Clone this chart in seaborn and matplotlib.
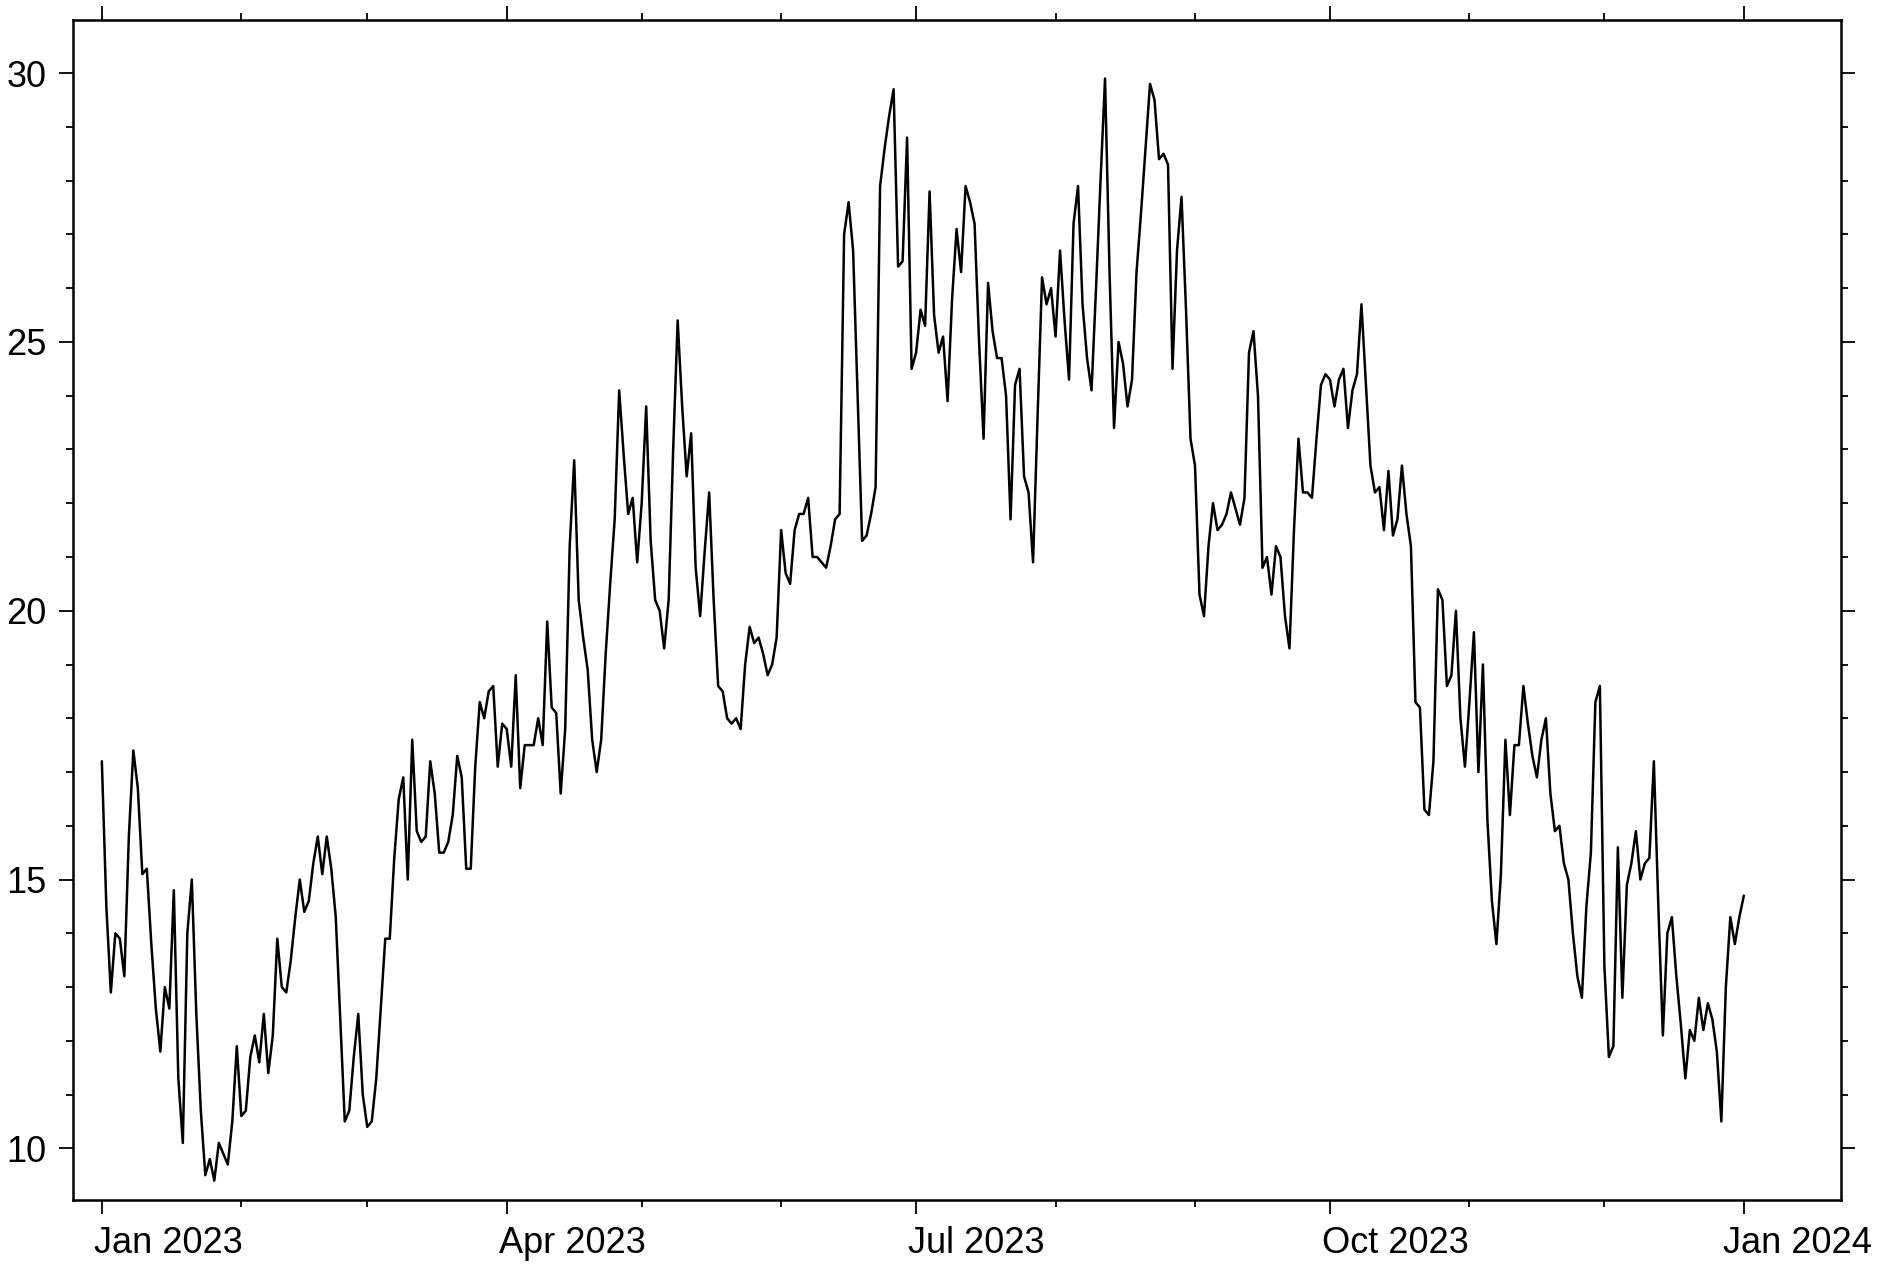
import numpy as np
import pandas as pd
import matplotlib
matplotlib.use('Agg')
import matplotlib.pyplot as plt
import matplotlib.dates as mdates
import matplotlib.transforms as mtransforms
from matplotlib.ticker import MultipleLocator
import seaborn as sns

# daily values, 2023-01-01 .. 2024-01-01
start_date = '2023-01-01'
temps = [
    17.2, 14.5, 12.9, 14.0, 13.9, 13.2, 15.8, 17.4, 16.7, 15.1,
    15.2, 13.8, 12.6, 11.8, 13.0, 12.6, 14.8, 11.3, 10.1, 14.0,
    15.0, 12.5, 10.7, 9.5, 9.8, 9.4, 10.1, 9.9, 9.7, 10.5,
    11.9, 10.6, 10.7, 11.7, 12.1, 11.6, 12.5, 11.4, 12.1, 13.9,
    13.0, 12.9, 13.5, 14.3, 15.0, 14.4, 14.6, 15.3, 15.8, 15.1,
    15.8, 15.2, 14.3, 12.4, 10.5, 10.7, 11.7, 12.5, 11.0, 10.4,
    10.5, 11.3, 12.6, 13.9, 13.9, 15.4, 16.5, 16.9, 15.0, 17.6,
    15.9, 15.7, 15.8, 17.2, 16.6, 15.5, 15.5, 15.7, 16.2, 17.3,
    16.9, 15.2, 15.2, 17.1, 18.3, 18.0, 18.5, 18.6, 17.1, 17.9,
    17.8, 17.1, 18.8, 16.7, 17.5, 17.5, 17.5, 18.0, 17.5, 19.8,
    18.2, 18.1, 16.6, 17.8, 21.2, 22.8, 20.2, 19.5, 18.9, 17.6,
    17.0, 17.6, 19.2, 20.5, 21.7, 24.1, 22.9, 21.8, 22.1, 20.9,
    22.0, 23.8, 21.3, 20.2, 20.0, 19.3, 20.2, 23.0, 25.4, 23.8,
    22.5, 23.3, 20.8, 19.9, 21.1, 22.2, 20.2, 18.6, 18.5, 18.0,
    17.9, 18.0, 17.8, 19.0, 19.7, 19.4, 19.5, 19.2, 18.8, 19.0,
    19.5, 21.5, 20.7, 20.5, 21.5, 21.8, 21.8, 22.1, 21.0, 21.0,
    20.9, 20.8, 21.2, 21.7, 21.8, 27.0, 27.6, 26.7, 24.0, 21.3,
    21.4, 21.8, 22.3, 27.9, 28.6, 29.2, 29.7, 26.4, 26.5, 28.8,
    24.5, 24.8, 25.6, 25.3, 27.8, 25.5, 24.8, 25.1, 23.9, 25.8,
    27.1, 26.3, 27.9, 27.6, 27.2, 25.0, 23.2, 26.1, 25.2, 24.7,
    24.7, 24.0, 21.7, 24.2, 24.5, 22.5, 22.2, 20.9, 23.6, 26.2,
    25.7, 26.0, 25.1, 26.7, 25.4, 24.3, 27.2, 27.9, 25.7, 24.7,
    24.1, 26.0, 28.0, 29.9, 26.3, 23.4, 25.0, 24.6, 23.8, 24.3,
    26.3, 27.4, 28.6, 29.8, 29.5, 28.4, 28.5, 28.3, 24.5, 26.7,
    27.7, 25.6, 23.2, 22.7, 20.3, 19.9, 21.2, 22.0, 21.5, 21.6,
    21.8, 22.2, 21.9, 21.6, 22.1, 24.8, 25.2, 24.0, 20.8, 21.0,
    20.3, 21.2, 21.0, 19.9, 19.3, 21.5, 23.2, 22.2, 22.2, 22.1,
    23.2, 24.2, 24.4, 24.3, 23.8, 24.3, 24.5, 23.4, 24.1, 24.4,
    25.7, 24.2, 22.7, 22.2, 22.3, 21.5, 22.6, 21.4, 21.7, 22.7,
    21.8, 21.2, 18.3, 18.2, 16.3, 16.2, 17.2, 20.4, 20.2, 18.6,
    18.8, 20.0, 18.0, 17.1, 18.3, 19.6, 17.0, 19.0, 16.1, 14.6,
    13.8, 15.1, 17.6, 16.2, 17.5, 17.5, 18.6, 17.9, 17.3, 16.9,
    17.6, 18.0, 16.6, 15.9, 16.0, 15.3, 15.0, 14.0, 13.2, 12.8,
    14.5, 15.5, 18.3, 18.6, 13.4, 11.7, 11.9, 15.6, 12.8, 14.9,
    15.3, 15.9, 15.0, 15.3, 15.4, 17.2, 14.5, 12.1, 14.0, 14.3,
    13.2, 12.3, 11.3, 12.2, 12.0, 12.8, 12.2, 12.7, 12.4, 11.8,
    10.5, 13.0, 14.3, 13.8, 14.3, 14.7,
]

df = pd.DataFrame({'date': pd.date_range(start_date, periods=len(temps), freq='D'),
                   'temp': temps})

sns.set_theme(style='ticks')
plt.rcParams['font.family'] = ['Liberation Sans', 'DejaVu Sans']

fig = plt.figure(figsize=(18.78, 12.71), dpi=100)
ax = fig.add_axes([0.0389, 0.0559, 0.9414, 0.928])

sns.lineplot(data=df, x='date', y='temp', color='black', linewidth=1.8, ax=ax)

t0 = pd.Timestamp('2023-01-01')
t1 = pd.Timestamp('2024-01-01')
ax.set_xlim(t0 - pd.Timedelta(days=6.4), t1 + pd.Timedelta(days=21.6))
ax.set_ylim(9.04, 30.98)

ax.xaxis.set_major_locator(mdates.MonthLocator(bymonth=[1, 4, 7, 10]))
ax.xaxis.set_major_formatter(mdates.DateFormatter('%b %Y'))
ax.xaxis.set_minor_locator(mdates.MonthLocator())
ax.yaxis.set_major_locator(MultipleLocator(5))
ax.yaxis.set_minor_locator(MultipleLocator(1))

ax.tick_params(which='both', direction='out', top=True, right=True,
               labeltop=False, labelright=False, width=1.3, color='black')
ax.tick_params(which='major', length=10, labelsize=26, pad=9, labelcolor='black')
ax.tick_params(which='minor', length=5)
for s in ax.spines.values():
    s.set_linewidth(1.8)
    s.set_color('black')

# date labels start just left of their tick; the last one is kept inside the figure
shift = mtransforms.ScaledTranslation(-8 / 100, 0, fig.dpi_scale_trans)
last_shift = mtransforms.ScaledTranslation(128 / 100, 0, fig.dpi_scale_trans)
labels = ax.get_xticklabels()
for i, lab in enumerate(labels):
    if i == len(labels) - 1:
        lab.set_horizontalalignment('right')
        lab.set_transform(lab.get_transform() + last_shift)
    else:
        lab.set_horizontalalignment('left')
        lab.set_transform(lab.get_transform() + shift)

ax.set_xlabel('')
ax.set_ylabel('')

fig.savefig('out.png', dpi=100)
